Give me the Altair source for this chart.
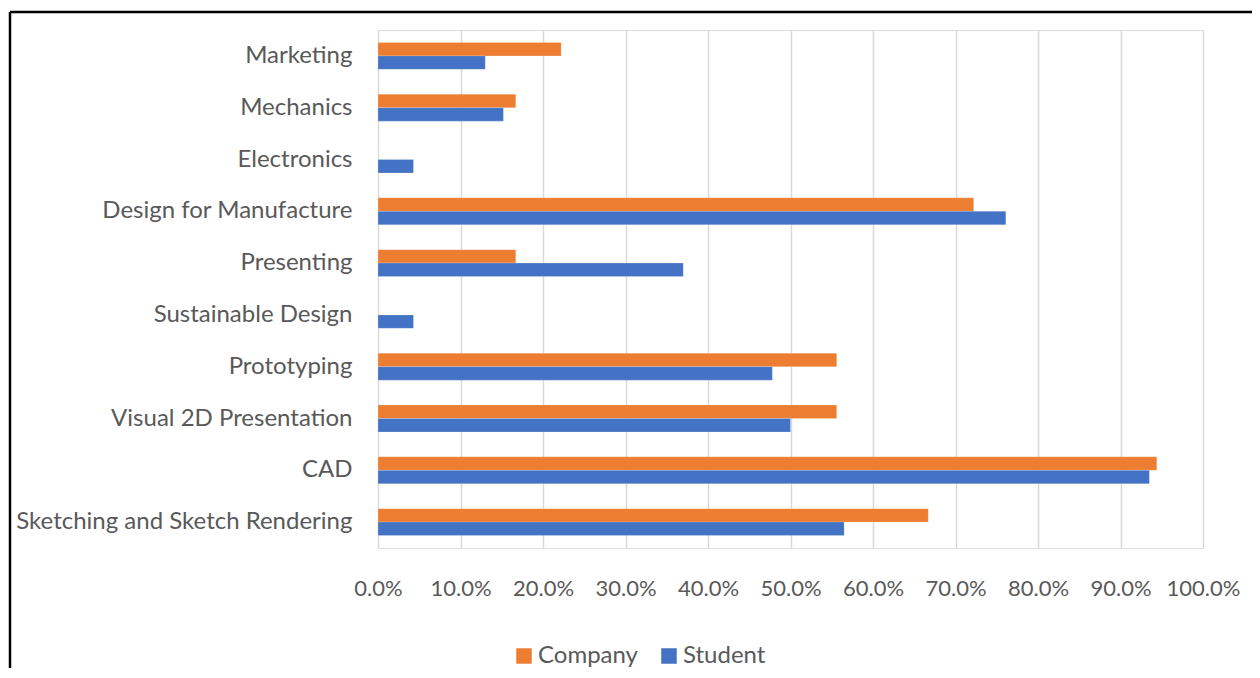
import altair as alt
import pandas as pd

categories = ["Marketing", "Mechanics", "Electronics", "Design for Manufacture",
              "Presenting", "Sustainable Design", "Prototyping",
              "Visual 2D Presentation", "CAD", "Sketching and Sketch Rendering"]
company = [0.222, 0.167, 0.0, 0.722, 0.167, 0.0, 0.556, 0.556, 0.944, 0.667]
student = [0.130, 0.152, 0.043, 0.761, 0.370, 0.043, 0.478, 0.500, 0.935, 0.565]
series = ["Company", "Student"]
colors = ["#ED7D31", "#4472C4"]
x_ticks = [0.0, 0.1, 0.2, 0.3, 0.4, 0.5, 0.6, 0.7, 0.8, 0.9, 1.0]

rows = []
for c, a, b in zip(categories, company, student):
    rows.append({"skill": c, "series": "Company", "value": a})
    rows.append({"skill": c, "series": "Student", "value": b})
df = pd.DataFrame(rows)

FONT = "Lato"
GRAY = "#595959"

bars = alt.Chart(df).mark_bar(stroke="white", strokeWidth=0.5, strokeOpacity=0.4).encode(
    x=alt.X("value:Q",
            scale=alt.Scale(domain=[0, 1], nice=False),
            axis=alt.Axis(values=x_ticks, format=".1%", title=None, grid=True,
                          gridColor="#D9D9D9", gridWidth=1.5, ticks=False, domain=False,
                          labelFont=FONT, labelFontSize=22, labelColor=GRAY,
                          labelPadding=30, labelOverlap=False, labelFlush=False)),
    y=alt.Y("skill:N", sort=categories,
            scale=alt.Scale(paddingInner=0.48, paddingOuter=0.24),
            axis=alt.Axis(title=None, ticks=False, domain=False,
                          labelFont=FONT, labelFontSize=24, labelColor=GRAY,
                          labelPadding=26, labelLimit=400)),
    yOffset=alt.YOffset("series:N", sort=series, scale=alt.Scale(paddingInner=0)),
    color=alt.Color("series:N", sort=series,
                    scale=alt.Scale(domain=series, range=colors),
                    legend=alt.Legend(title=None, orient="none", direction="horizontal",
                                      legendX=134, legendY=614,
                                      labelFont=FONT, labelFontSize=24, labelColor=GRAY,
                                      symbolType="square",
                                      symbolSize=240, symbolStrokeWidth=0,
                                      columnPadding=19, labelOffset=2)),
)

frame_df = pd.DataFrame({"k": [0]})
top_line = alt.Chart(frame_df).mark_rule(color="black", strokeWidth=2.5).encode(
    x=alt.value(-368), x2=alt.value(900), y=alt.value(-18))
left_line = alt.Chart(frame_df).mark_rule(color="black", strokeWidth=2.5).encode(
    x=alt.value(-368), y=alt.value(-18), y2=alt.value(700))

chart = alt.layer(bars, top_line, left_line).properties(
    width=825, height=518,
    padding={"left": 370, "top": 22, "right": 49, "bottom": 120},
    autosize=alt.AutoSizeParams(type="none"),
).configure_view(stroke=None).configure(background="white")

chart.save("out.html", embed_options={"renderer": "svg", "actions": False})
